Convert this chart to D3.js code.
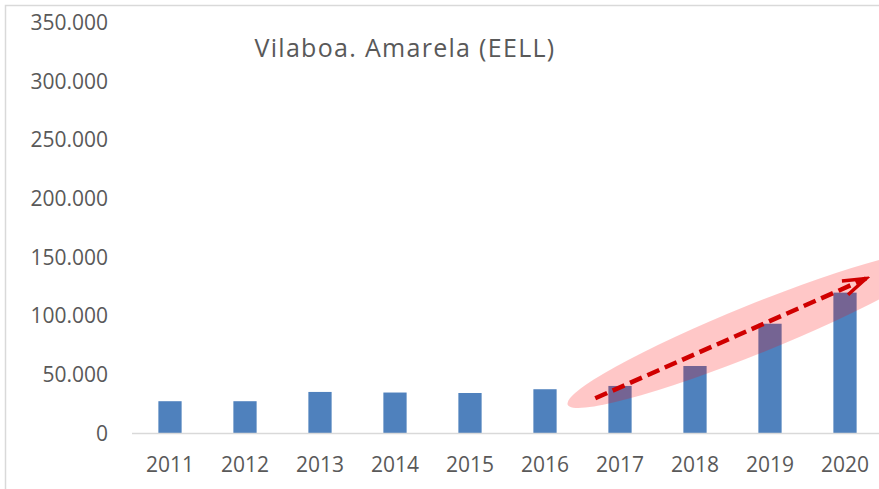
<!DOCTYPE html>
<meta charset="utf-8">
<style>
body { margin: 0; background: #fff; }
svg text { font-family: "Open Sans", sans-serif; fill: #595959; }
.axis .domain { display: none; }
</style>
<svg width="879" height="489"></svg>
<script src="https://d3js.org/d3.v7.min.js"></script>
<script>

var years = ["2011", "2012", "2013", "2014", "2015", "2016", "2017", "2018", "2019", "2020"];
var values = [27500, 27500, 35400, 34900, 34500, 37700, 40500, 57500, 93500, 120000];
var yTicks = [0, 50000, 100000, 150000, 200000, 250000, 300000, 350000];
var title = "Vilaboa. Amarela (EELL)";

// trend annotation, in (fractional year, value)
var trendFrom = [2016.67, 30000],
    trendTo = [2020.28, 132000],
    bubbleCentre = [2018.8, 89000];

var svg = d3.select("svg");

var locale = d3.formatLocale({decimal: ",", thousands: ".", grouping: [3], currency: ["", "€"]});
var fmt = locale.format(",");

var x = d3.scaleBand()
    .domain(years)
    .range([132.5, 882.5])
    .paddingInner(0.69)
    .paddingOuter(0.345);

var y = d3.scaleLinear()
    .domain([0, 350000])
    .range([433.5, 22.6]);

function yearPos(v) {
  var base = Math.floor(v);
  return x(String(base)) + x.bandwidth() / 2 + (v - base) * x.step();
}

// chart frame (runs off the picture on right and bottom)
svg.append("rect")
    .attr("x", 5.5).attr("y", 5.5)
    .attr("width", 900).attr("height", 520)
    .attr("fill", "none")
    .attr("stroke", "#d9d9d9")
    .attr("stroke-width", 1.5);

svg.append("text")
    .attr("x", 405)
    .attr("y", 57)
    .attr("text-anchor", "middle")
    .style("font-size", "25px")
    .style("letter-spacing", "1.3px")
    .text(title);

svg.append("g")
    .attr("class", "axis")
    .attr("transform", "translate(108,0)")
    .call(d3.axisLeft(y).tickValues(yTicks).tickSize(0).tickPadding(0).tickFormat(fmt))
    .selectAll("text")
      .style("font-size", "21px")
      .attr("fill", "#595959");

svg.append("g")
  .selectAll("rect")
  .data(values)
  .enter().append("rect")
    .attr("x", function(d, i) { return x(years[i]); })
    .attr("y", function(d) { return y(d); })
    .attr("width", x.bandwidth())
    .attr("height", function(d) { return y(0) - y(d); })
    .attr("fill", "#4f81bd");

svg.append("line")
    .attr("x1", 132).attr("x2", 879)
    .attr("y1", y(0)).attr("y2", y(0))
    .attr("stroke", "#d9d9d9")
    .attr("stroke-width", 1.5);

svg.append("g")
    .attr("class", "axis")
    .attr("transform", "translate(0," + y(0) + ")")
    .call(d3.axisBottom(x).tickSize(0).tickPadding(24))
    .selectAll("text")
      .style("font-size", "21px")
      .attr("fill", "#595959");

// pink highlight
var cx = yearPos(bubbleCentre[0]), cy = y(bubbleCentre[1]);
svg.append("ellipse")
    .attr("cx", 0).attr("cy", 0)
    .attr("rx", 202).attr("ry", 24.5)
    .attr("transform", "translate(" + cx + "," + cy + ") rotate(-22)")
    .attr("fill", "rgba(255,0,0,0.22)");

// dashed arrow
svg.append("defs").append("marker")
    .attr("id", "head")
    .attr("markerUnits", "userSpaceOnUse")
    .attr("viewBox", "-26 -12 30 24")
    .attr("refX", 0).attr("refY", 0)
    .attr("markerWidth", 30).attr("markerHeight", 24)
    .attr("orient", "auto")
  .append("path")
    .attr("d", "M-23,-7.5L0,0L-23,7.5")
    .attr("fill", "none")
    .attr("stroke", "#d00000")
    .attr("stroke-width", 3.5);

svg.append("line")
    .attr("x1", yearPos(trendFrom[0])).attr("y1", y(trendFrom[1]))
    .attr("x2", yearPos(trendTo[0])).attr("y2", y(trendTo[1]))
    .attr("stroke", "#d00000")
    .attr("stroke-width", 4.5)
    .attr("stroke-dasharray", "13,6")
    .attr("marker-end", "url(#head)");

</script>
